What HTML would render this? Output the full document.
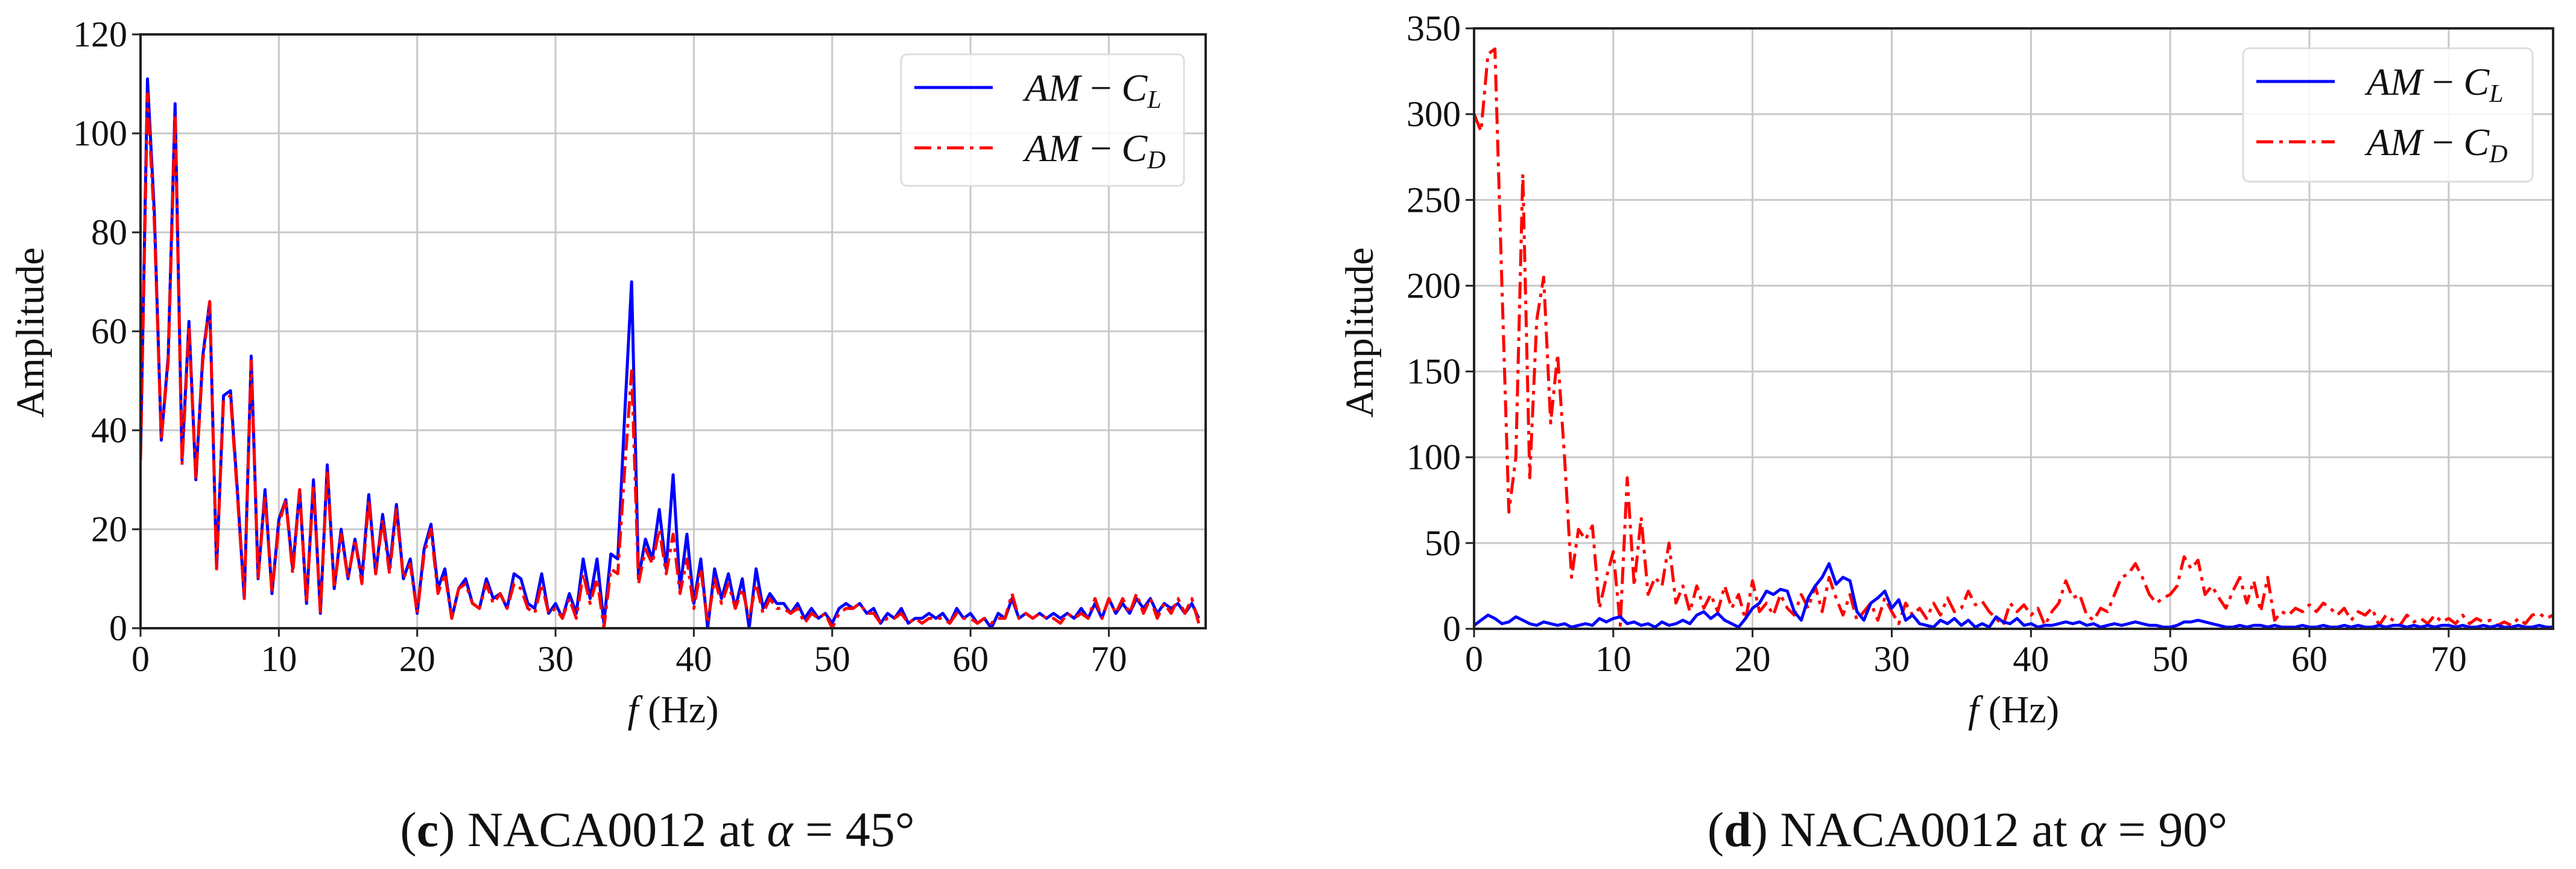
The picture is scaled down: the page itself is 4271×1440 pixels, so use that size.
<!DOCTYPE html>
<html><head><meta charset="utf-8"><style>
html,body{margin:0;padding:0;background:#fff;}
svg{display:block;}
</style></head><body>
<svg id="fig" width="4271" height="1440" xmlns="http://www.w3.org/2000/svg"
 font-family="'Liberation Serif', serif">
</svg>
<script>
// ---------- Panel (c) data: NACA0012 at 45 deg ----------
const freqC = [0,0.5,1,1.5,2,2.5,3,3.5,4,4.5,5,5.5,6,6.5,7,7.5,8,8.5,9,9.5,10,10.5,11,11.5,12,12.5,13,13.5,14,14.5,15,15.5,16,16.5,17,17.5,18,18.5,19,19.5,20,20.5,21,21.5,22,22.5,23,23.5,24,24.5,25,25.5,26,26.5,27,27.5,28,28.5,29,29.5,30,30.5,31,31.5,32,32.5,33,33.5,34,34.5,35,35.5,36,36.5,37,37.5,38,38.5,39,39.5,40,40.5,41,41.5,42,42.5,43,43.5,44,44.5,45,45.5,46,46.5,47,47.5,48,48.5,49,49.5,50,50.5,51,51.5,52,52.5,53,53.5,54,54.5,55,55.5,56,56.5,57,57.5,58,58.5,59,59.5,60,60.5,61,61.5,62,62.5,63,63.5,64,64.5,65,65.5,66,66.5,67,67.5,68,68.5,69,69.5,70,70.5,71,71.5,72,72.5,73,73.5,74,74.5,75,75.5,76,76.5,77];
const clC = [35,111,84,38,55,106,34,62,30,55,66,12,47,48,28,6,55,10,28,7,22,26,12,28,5,30,3,33,8,20,10,18,10,27,11,23,12,25,10,14,3,16,21,8,12,2,8,10,5,4,10,6,7,4,11,10,5,4,11,3,5,2,7,3,14,6,14,1,15,14,43,70,10,18,14,24,12,31,8,19,5,14,0,12,6,11,4,10,0,12,4,7,5,5,3,5,2,4,2,3,1,4,5,4,5,3,4,1,3,2,4,1,2,2,3,2,3,1,4,2,3,1,2,0,3,2,6,2,3,2,3,2,3,2,3,2,4,2,5,2,6,3,5,3,6,4,6,3,5,4,5,3,5,2];
const cdC = [34,108,82,38,54,104,33,61,30,54,66,12,46,47,27,6,54,10,27,7,21,26,11,28,5,29,3,32,8,19,10,18,9,26,11,22,11,24,10,13,3,15,20,7,11,2,8,9,5,4,9,5,7,4,9,8,4,3,9,3,4,2,6,2,11,5,10,0,12,11,32,52,9,16,13,20,11,19,7,14,4,12,1,10,5,9,4,8,2,9,3,6,4,4,3,4,1,3,2,3,0,3,4,4,5,3,3,1,2,2,3,1,2,1,2,2,2,1,3,2,2,1,2,1,2,2,7,2,3,2,3,2,2,1,3,2,3,2,6,2,6,3,6,3,7,3,6,2,5,3,6,3,6,1];
const yTicksC = [0,20,40,60,80,100,120];
const xTicks = [0,10,20,30,40,50,60,70];

// ---------- Panel (d) data: NACA0012 at 90 deg ----------
const freqD = [0,0.5,1,1.5,2,2.5,3,3.5,4,4.5,5,5.5,6,6.5,7,7.5,8,8.5,9,9.5,10,10.5,11,11.5,12,12.5,13,13.5,14,14.5,15,15.5,16,16.5,17,17.5,18,18.5,19,19.5,20,20.5,21,21.5,22,22.5,23,23.5,24,24.5,25,25.5,26,26.5,27,27.5,28,28.5,29,29.5,30,30.5,31,31.5,32,32.5,33,33.5,34,34.5,35,35.5,36,36.5,37,37.5,38,38.5,39,39.5,40,40.5,41,41.5,42,42.5,43,43.5,44,44.5,45,45.5,46,46.5,47,47.5,48,48.5,49,49.5,50,50.5,51,51.5,52,52.5,53,53.5,54,54.5,55,55.5,56,56.5,57,57.5,58,58.5,59,59.5,60,60.5,61,61.5,62,62.5,63,63.5,64,64.5,65,65.5,66,66.5,67,67.5,68,68.5,69,69.5,70,70.5,71,71.5,72,72.5,73,73.5,74,74.5,75,75.5,76,76.5,77,77.5];
const cdD = [300,290,335,338,200,68,100,265,88,180,205,120,160,100,30,58,52,60,12,30,45,2,88,25,65,20,30,25,50,15,25,10,25,12,20,10,25,12,20,5,28,10,15,8,20,12,8,20,12,25,10,30,18,8,20,5,10,15,5,18,10,3,15,8,12,6,15,8,18,10,12,22,14,16,10,6,2,15,10,14,8,12,2,10,15,28,18,20,8,5,12,10,20,30,32,38,30,20,15,18,20,25,42,35,40,20,25,18,12,22,30,15,28,10,30,5,10,8,12,10,14,10,15,12,8,12,5,10,8,12,2,8,5,2,8,4,6,3,8,4,6,3,8,3,6,4,5,2,4,2,6,3,8,9,6,8];
const clD = [2,5,8,6,3,4,7,5,3,2,4,3,2,3,1,2,3,2,6,4,6,7,3,4,2,3,1,4,2,3,5,3,8,10,6,9,5,3,1,6,12,15,22,20,23,22,10,5,18,25,30,38,26,30,28,10,5,15,18,22,12,17,5,8,3,2,1,5,3,6,2,5,1,3,1,7,4,3,6,2,3,1,2,2,3,4,3,4,2,3,1,2,3,2,3,4,3,2,2,1,1,2,4,4,5,4,3,2,1,1,2,1,2,2,1,2,1,1,1,2,1,1,2,1,1,2,1,2,1,1,2,1,2,2,1,2,1,2,1,2,2,1,2,1,1,2,1,2,1,1,2,1,1,2,1,1];
const yTicksD = [0,50,100,150,200,250,300,350];

const NS = 'http://www.w3.org/2000/svg';
const svg = document.getElementById('fig');
function mk(tag, attrs, parent){const e=document.createElementNS(NS,tag);for(const k in attrs)e.setAttribute(k,attrs[k]);(parent||svg).appendChild(e);return e;}

function panel(p){
  const g = mk('g',{});
  
  
  const sx = f => p.x0 + (f - 0) * (p.x1 - p.x0) / p.fmax;
  const sy = v => p.y0 - v * (p.y0 - p.y1) / p.vmax;
  // gridlines
  for(const t of xTicks){
    const l = mk('line',{x1:sx(t),x2:sx(t),y1:p.y1,y2:p.y0,stroke:'#c8c8c8','stroke-width':3},g);
    
    
  }
  for(const t of p.yTicks){
    const l = mk('line',{x1:p.x0,x2:p.x1,y1:sy(t),y2:sy(t),stroke:'#c8c8c8','stroke-width':3},g);
    
    
  }
  // series
  const clip = mk('clipPath',{id:p.id+'clip'},g);
  mk('rect',{x:p.x0,y:p.y1-10,width:p.x1-p.x0,height:p.y0-p.y1+10},clip);
  function series(vals, color, dash, name){
    let d='';
    for(let i=0;i<p.freq.length;i++){d+=(i?'L':'M')+sx(p.freq[i]).toFixed(1)+','+sy(vals[i]).toFixed(1);}
    const path = mk('path',{d:d,fill:'none',stroke:color,'stroke-width':5,'stroke-linejoin':'round','clip-path':'url(#'+p.id+'clip)'},g);
    if(dash) path.setAttribute('stroke-dasharray',dash);
    
    
  }
  p.order.forEach(s=>series(s.vals,s.color,s.dash,s.name));
  // frame
  const fr = mk('rect',{x:p.x0,y:p.y1,width:p.x1-p.x0,height:p.y0-p.y1,fill:'none',stroke:'#222','stroke-width':4},g);
  
  
  // ticks + labels
  for(const t of xTicks){
    mk('line',{x1:sx(t),x2:sx(t),y1:p.y0,y2:p.y0+14,stroke:'#222','stroke-width':3},g);
    const tx = mk('text',{x:sx(t),y:1112,'font-size':60,'text-anchor':'middle',fill:'#111'},g);
    tx.textContent=t;
    
    
  }
  for(const t of p.yTicks){
    mk('line',{x1:p.x0-14,x2:p.x0,y1:sy(t),y2:sy(t),stroke:'#222','stroke-width':3},g);
    const tx = mk('text',{x:p.x0-22,y:sy(t)+20,'font-size':60,'text-anchor':'end',fill:'#111'},g);
    tx.textContent=t;
    
    
  }
  // axis titles
  const xt = mk('text',{x:(p.x0+p.x1)/2,y:1197,'font-size':64,'text-anchor':'middle',fill:'#111'},g);
  xt.innerHTML='<tspan font-style="italic">f</tspan> (Hz)';
  
  
  const yt = mk('text',{x:0,y:0,'font-size':66,'text-anchor':'middle',fill:'#111',transform:'translate('+(p.ylabX)+',551) rotate(-90)'},g);
  yt.textContent='Amplitude';
  
  
  // legend
  const lg = mk('g',{},g);
  
  
  mk('rect',{x:p.lx,y:p.ly,width:p.lw,height:p.lh,rx:10,fill:'#fff','fill-opacity':0.85,stroke:'#ddd','stroke-width':3},lg);
  const entries=[{c:'#0000ff',d:null,sub:'L'},{c:'#ff0000',d:'28,10,6,10',sub:'D'}];
  entries.forEach((e,i)=>{
    const yy = p.ly + 55 + i*100;
    const ln = mk('line',{x1:p.lx+22,x2:p.lx+152,y1:yy,y2:yy,stroke:e.c,'stroke-width':5},lg);
    if(e.d) ln.setAttribute('stroke-dasharray',e.d);
    
    
    const tx = mk('text',{x:p.lx+205,y:yy+22,'font-size':64,fill:'#111','font-style':'italic'},lg);
    tx.innerHTML='AM <tspan font-style="normal">−</tspan> C<tspan font-size="42" dy="12">'+e.sub+'</tspan>';
    
    
  });
}

panel({id:'c',x0:233,x1:1999,y0:1041,y1:57,fmax:77.0,vmax:120,yTicks:yTicksC,freq:freqC,ylabX:72,
  lx:1494,ly:90,lw:469,lh:218,
  order:[{vals:clC,color:'#0000ff',dash:null,name:'series-am-cl'},{vals:cdC,color:'#ff0000',dash:'28,10,6,10',name:'series-am-cd'}]});
panel({id:'d',x0:2444,x1:4233,y0:1042,y1:47,fmax:77.5,vmax:350,yTicks:yTicksD,freq:freqD,ylabX:2276,
  lx:3719,ly:80,lw:480,lh:221,
  order:[{vals:cdD,color:'#ff0000',dash:'28,10,6,10',name:'series-am-cd'},{vals:clD,color:'#0000ff',dash:null,name:'series-am-cl'}]});

// captions
const cap1 = mk('text',{x:1090,y:1402,'font-size':82,'text-anchor':'middle',fill:'#111'});
cap1.innerHTML='(<tspan font-weight="bold">c</tspan>) NACA0012 at <tspan font-style="italic">α</tspan> = 45°';


const cap2 = mk('text',{x:3262,y:1402,'font-size':82,'text-anchor':'middle',fill:'#111'});
cap2.innerHTML='(<tspan font-weight="bold">d</tspan>) NACA0012 at <tspan font-style="italic">α</tspan> = 90°';


</script>
</body></html>
